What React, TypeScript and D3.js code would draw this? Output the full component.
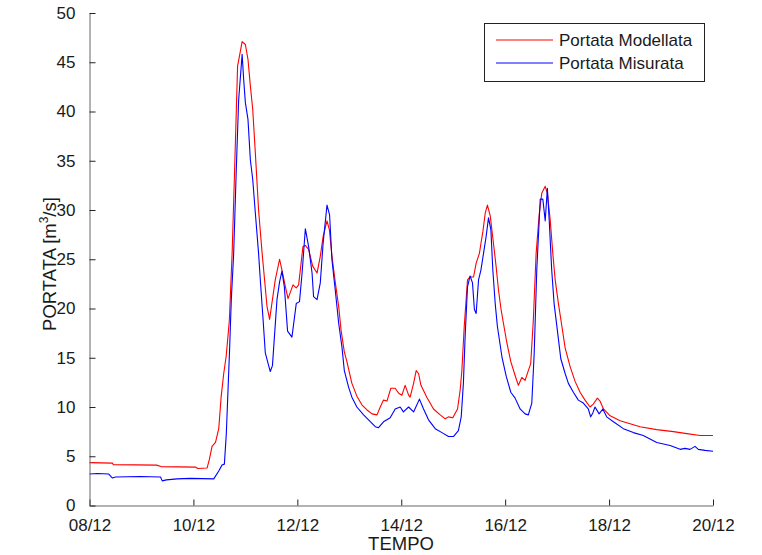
import React from 'react';
import * as d3 from 'd3';

// hours since 08/12 00:00
const modelHours = [0, 10.6, 11, 31, 33, 48.9, 50, 54.3, 55.4, 56.6, 58.2, 59.7, 60.8, 62, 63.1, 63.8, 64.6, 65.9, 66.9, 68.4, 70.5, 72, 73.2, 74.3, 75.4, 76.6, 78.1, 79.7, 82, 83.2, 85.8, 87.8, 88.9, 90.5, 91.7, 94, 95.5, 96.6, 98.6, 99.7, 101.2, 103.1, 105.1, 106.6, 107.9, 109.7, 110.8, 112, 113.5, 115.1, 116.2, 117.7, 118.9, 121.2, 123.5, 125.9, 128.2, 130.5, 132.8, 134.3, 135.8, 137.4, 139.2, 141.2, 142.8, 144.3, 145.8, 147.4, 148.1, 149.7, 150.9, 152, 153.1, 155.8, 158.9, 162, 164.3, 165.8, 167.8, 170, 171.2, 172, 173.1, 174.6, 175.8, 177.4, 178.6, 180.1, 180.8, 181.7, 182.8, 183.8, 185.1, 186.6, 187.8, 188.9, 190.1, 191.2, 192.8, 194.6, 196.6, 198.1, 199.7, 201.2, 202.7, 203.8, 205, 206.3, 207.7, 208.9, 210.5, 211.5, 212.8, 214, 215.1, 216.6, 218.2, 219.7, 222, 224.3, 226.6, 228.9, 231.2, 232.7, 234.6, 235.8, 237.4, 240.5, 245.1, 249.7, 254.3, 262, 269.7, 275.9, 282, 288];
const modelValues = [4.35, 4.3, 4.15, 4.1, 3.95, 3.9, 3.75, 3.8, 4.7, 6.0, 6.4, 7.8, 11, 13.4, 15.1, 16.8, 18.8, 25.7, 33.1, 44.6, 47.1, 46.8, 45.3, 42.6, 40.2, 35.8, 30, 25.7, 20.2, 18.9, 22.9, 25, 23.9, 22.2, 21, 22.4, 22.1, 22.4, 26.3, 26.4, 26, 24.3, 23.6, 25.3, 27.3, 28.9, 28, 25.3, 22.7, 20.2, 17.8, 15.6, 14.6, 12.4, 11.1, 10.2, 9.7, 9.3, 9.2, 10, 10.7, 10.6, 11.9, 11.9, 11.4, 11.2, 12.2, 11.2, 11, 12.4, 13.7, 13.4, 12.2, 11, 9.8, 9.2, 8.8, 9.0, 8.9, 9.8, 11.7, 13.7, 18.2, 22.9, 23.2, 23.2, 24.6, 25.6, 26.6, 27.8, 29.7, 30.5, 29.4, 26.6, 24.3, 21.9, 19.9, 18.5, 16.5, 14.6, 13.2, 12.2, 13, 12.7, 13.7, 14.4, 18.8, 25.6, 29.5, 31.7, 32.4, 31.7, 29, 25.6, 22.9, 20.5, 18.2, 16, 14.1, 12.6, 11.5, 10.7, 10, 10.3, 10.9, 10.6, 9.8, 9.1, 8.6, 8.3, 8.0, 7.7, 7.5, 7.3, 7.1, 7.1];

const measHours = [0, 3.7, 8.8, 10.5, 12, 23.5, 32.8, 33.6, 35.5, 40.5, 46.6, 57.4, 59.7, 61.2, 62.3, 63.2, 63.8, 64.7, 65.5, 66.6, 67.8, 68.9, 70.5, 71.2, 72, 73.2, 74.3, 75.4, 76.6, 78.1, 78.9, 80.2, 81.2, 83.5, 84.5, 86.6, 87.8, 88.9, 90, 91.5, 93.5, 95.5, 97, 98.2, 99.7, 101.2, 102.8, 103.5, 105.1, 106.6, 107.9, 109.7, 110.9, 112, 113.5, 115.1, 116.6, 117.7, 119.7, 121.2, 123.5, 126.6, 128.9, 132, 133.5, 135.8, 138.9, 141.2, 143.5, 145, 147.4, 149.7, 152.4, 154.3, 156.6, 159.7, 162.8, 165.8, 168.1, 170.4, 171.7, 172.7, 173.5, 174.6, 175.8, 176.9, 177.8, 178.6, 179.7, 180.8, 182, 183.2, 184.3, 185.4, 186.3, 187.4, 188.4, 190.5, 192.5, 194.6, 196.6, 198.9, 201.2, 202.7, 204.3, 205.4, 206.6, 208.2, 209.4, 210.5, 211.5, 212.4, 213.5, 214.6, 216.1, 217.7, 219.7, 221.2, 223.5, 225.8, 228.1, 230.4, 231.5, 232.5, 233.5, 235.4, 237.1, 238.9, 242, 246.6, 251.2, 255.8, 262, 268.2, 272.8, 275.1, 277.4, 279.7, 281.2, 284.3, 288];
const measValues = [3.2, 3.25, 3.2, 2.8, 2.9, 2.95, 2.9, 2.5, 2.6, 2.7, 2.75, 2.7, 3.5, 4.1, 4.2, 7.3, 10.7, 15.8, 20.9, 25.6, 34.1, 41.2, 45.8, 43.3, 40.9, 39.2, 35.1, 33.1, 29.7, 25.6, 22.9, 18.8, 15.5, 13.6, 14.2, 20.9, 22.7, 23.8, 22.2, 17.7, 17.1, 20.5, 20.7, 23.6, 28.1, 26.3, 23.6, 21.2, 20.9, 22.6, 26.6, 30.5, 29.5, 24.9, 21.9, 18.5, 16.1, 13.7, 12, 11, 10, 9.2, 8.7, 8.0, 7.9, 8.5, 8.9, 9.8, 10, 9.5, 10, 9.5, 10.8, 9.8, 8.7, 7.8, 7.4, 7.0, 7.0, 7.6, 9, 12.4, 17.1, 22.2, 23.3, 22.6, 19.9, 19.5, 22.9, 23.9, 25.6, 27.3, 29.2, 28, 23.9, 20.5, 18.2, 15.1, 13.1, 11.5, 10.9, 9.8, 9.3, 9.2, 10.4, 15.4, 23.9, 31.1, 31.1, 28.9, 32.2, 28.7, 23.9, 20.5, 17.8, 14.9, 13.4, 12.4, 11.5, 10.7, 10.4, 9.8, 9.0, 9.4, 10, 9.3, 9.8, 9.0, 8.5, 7.8, 7.4, 7.1, 6.4, 6.1, 5.7, 5.8, 5.7, 6.0, 5.7, 5.6, 5.5];

const xTickHours = [0, 48, 96, 144, 192, 240, 288];
const xTickLabels = ['08/12', '10/12', '12/12', '14/12', '16/12', '18/12', '20/12'];
const yTicks = [0, 5, 10, 15, 20, 25, 30, 35, 40, 45, 50];
const seriesNames = ['Portata Modellata', 'Portata Misurata'];
const seriesColors = ['#ff0000', '#0000ff'];

const FONT = '"Liberation Sans", Arial, sans-serif';

const App = () => {
  const ref = React.useRef<SVGSVGElement>(null);

  React.useEffect(() => {
    const svg = d3.select(ref.current);
    svg.selectAll('*').remove();

    const left = 89.5, right = 713, top = 13, bottom = 505.5;

    const x = d3.scaleLinear().domain([0, 288]).range([left, right]);
    const y = d3.scaleLinear().domain([0, 50]).range([bottom, top]);

    const line = d3.line<[number, number]>()
      .x(d => x(d[0]))
      .y(d => y(d[1]));

    const model: [number, number][] = modelHours.map((h, i) => [h, modelValues[i]]);
    const meas: [number, number][] = measHours.map((h, i) => [h, measValues[i]]);

    [model, meas].forEach((data, i) => {
      svg.append('path')
        .datum(data)
        .attr('fill', 'none')
        .attr('stroke', seriesColors[i])
        .attr('stroke-width', 1.1)
        .attr('stroke-linejoin', 'round')
        .attr('d', line);
    });

    // x axis, ticks inward
    const xAxis = svg.append('g')
      .attr('transform', `translate(0, ${bottom})`)
      .call(d3.axisBottom(x)
        .tickValues(xTickHours)
        .tickFormat((d, i) => xTickLabels[i])
        .tickSizeInner(-6)
        .tickSizeOuter(0)
        .tickPadding(13));
    xAxis.select('.domain').attr('stroke', '#666');
    xAxis.selectAll('line').attr('stroke', '#222');
    xAxis.selectAll('text').attr('font-family', FONT).attr('font-size', 17).attr('fill', '#1a1a1a');

    // y axis, ticks inward
    const yAxis = svg.append('g')
      .attr('transform', `translate(${left}, 0)`)
      .call(d3.axisLeft(y)
        .tickValues(yTicks)
        .tickSizeInner(-6)
        .tickSizeOuter(0)
        .tickPadding(14));
    yAxis.select('.domain').attr('stroke', '#666');
    yAxis.selectAll('line').attr('stroke', '#222');
    yAxis.selectAll('text').attr('font-family', FONT).attr('font-size', 17).attr('fill', '#1a1a1a');

    // axis titles
    svg.append('text')
      .attr('x', 401)
      .attr('y', 550)
      .attr('text-anchor', 'middle')
      .attr('font-family', FONT)
      .attr('font-size', 18.5)
      .attr('fill', '#1a1a1a')
      .text('TEMPO');

    const yLabel = svg.append('text')
      .attr('transform', 'translate(56, 264) rotate(-90)')
      .attr('text-anchor', 'middle')
      .attr('font-family', FONT)
      .attr('font-size', 18.5)
      .attr('fill', '#1a1a1a');
    yLabel.append('tspan').text('PORTATA [m');
    yLabel.append('tspan').attr('font-size', 12).attr('dy', -8).text('3');
    yLabel.append('tspan').attr('dy', 8).text('/s]');

    // legend
    const legend = svg.append('g');
    legend.append('rect')
      .attr('x', 484.5).attr('y', 23.5)
      .attr('width', 220).attr('height', 58)
      .attr('fill', '#fff')
      .attr('stroke', '#222');
    seriesNames.forEach((name, i) => {
      const ly = 40 + i * 23;
      legend.append('line')
        .attr('x1', 496).attr('x2', 553)
        .attr('y1', ly).attr('y2', ly)
        .attr('stroke', seriesColors[i])
        .attr('stroke-width', 1.1);
      legend.append('text')
        .attr('x', 559).attr('y', ly + 6)
        .attr('font-family', FONT)
        .attr('font-size', 17)
        .attr('fill', '#1a1a1a')
        .text(name);
    });
  }, []);

  return (
    <svg ref={ref} width="762" height="555"
      style={{ position: 'absolute', left: 0, top: 0, background: '#fff' }} />
  );
};

export default App;
